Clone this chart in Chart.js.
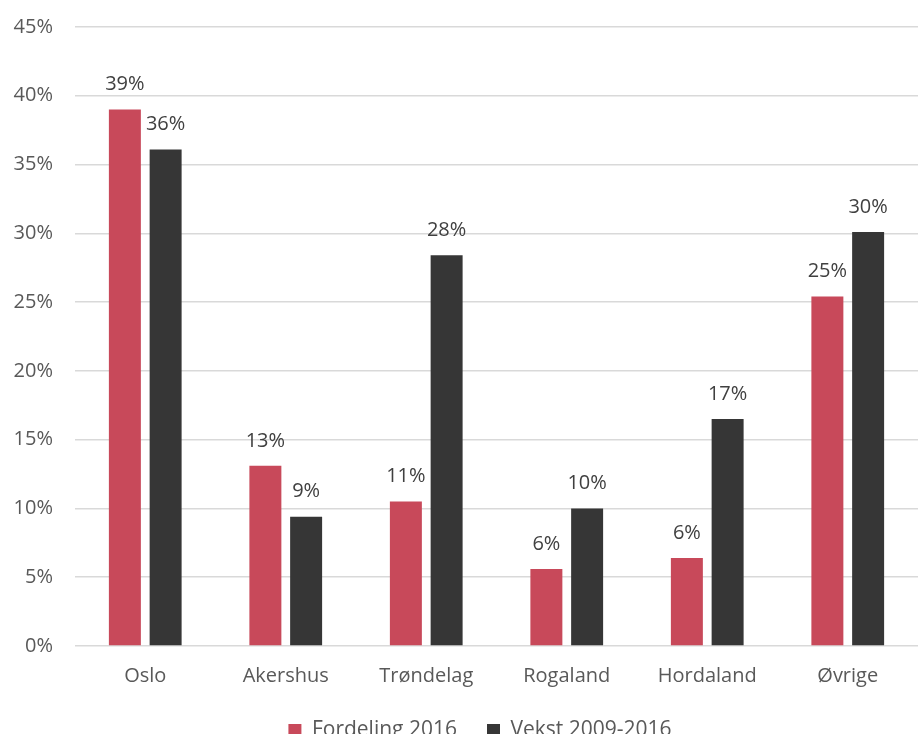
<!DOCTYPE html>
<html>
<head>
<meta charset="utf-8">
<script src="https://cdn.jsdelivr.net/npm/chart.js@4"></script>
<style>
  html, body { margin: 0; padding: 0; background: #fff; }
  #wrap { width: 918px; height: 738px; }
</style>
</head>
<body>
<div id="wrap"><canvas id="chart"></canvas></div>
<script>
const categories = ['Oslo', 'Akershus', 'Trøndelag', 'Rogaland', 'Hordaland', 'Øvrige']
const fordeling2016 = [39.0, 13.1, 10.5, 5.6, 6.4, 25.4]
const vekst2009_2016 = [36.1, 9.4, 28.4, 10.0, 16.5, 30.1]
const yTicks = [0, 5, 10, 15, 20, 25, 30, 35, 40, 45]

const FONT = "'Open Sans', sans-serif"

// draws the value labels above the bars
const barLabels = {
    id: 'barLabels',
    afterDatasetsDraw(chart) {
        const ctx = chart.ctx
        ctx.save()
        ctx.font = '20px ' + FONT
        ctx.fillStyle = '#404040'
        ctx.textAlign = 'center'
        ctx.textBaseline = 'middle'
        chart.data.datasets.forEach(function (ds, i) {
            chart.getDatasetMeta(i).data.forEach(function (bar, j) {
                ctx.fillText(Math.round(ds.data[j]) + '%', bar.x, bar.y - 25)
            })
        })
        ctx.restore()
    }
}

// legend a bit shorter, and nudged, so it sits where the original has it
const legendFit = {
    id: 'legendFit',
    beforeInit(chart) {
        const legend = chart.legend
        const fit = legend.fit
        const draw = legend.draw
        legend.fit = function () {
            fit.call(legend)
            legend.height -= 17
        }
        legend.draw = function () {
            legend.ctx.save()
            legend.ctx.translate(21, -8)
            draw.call(legend)
            legend.ctx.restore()
        }
    }
}

const data = {
    labels: categories,
    datasets: [{
        label: 'Fordeling 2016',
        backgroundColor: '#C8495A',
        data: fordeling2016,
    }, {
        label: 'Vekst 2009-2016',
        backgroundColor: '#363636',
        data: vekst2009_2016,
    }]
}

const config = {
    type: 'bar',
    data: data,
    options: {
        responsive: true,
        maintainAspectRatio: false,
        animation: false,
        datasets: {
            bar: {
                categoryPercentage: 0.58,
                barPercentage: 0.785,
            },
        },
        layout: {
            padding: {top: 0, right: 0, bottom: -4, left: 0},
        },
        scales: {
            x: {
                grid: {display: false},
                border: {display: false},
                ticks: {color: '#595959', font: {family: FONT, size: 20}, padding: 10},
            },
            y: {
                min: 0,
                max: 45,
                afterBuildTicks: function (scale) {
                    scale.ticks = yTicks.map(function (v) {return {value: v}})
                },
                afterFit: function (scale) {
                    scale.width = 75
                    scale.paddingTop = 27
                    scale.paddingBottom = 0
                },
                grid: {color: '#d9d9d9', lineWidth: 1.5, drawTicks: false},
                border: {display: false},
                ticks: {
                    color: '#595959',
                    font: {family: FONT, size: 20},
                    padding: 22,
                    callback: function (v) {return v + '%'},
                },
            },
        },
        plugins: {
            legend: {
                position: 'bottom',
                labels: {
                    color: '#595959',
                    font: {family: FONT, size: 21},
                    boxWidth: 13,
                    boxHeight: 13,
                    padding: 30,
                },
            },
            tooltip: {enabled: false},
        },
    },
    plugins: [barLabels, legendFit],
}

const chart = new Chart(document.querySelector('#chart'), config)
</script>
</body>
</html>
